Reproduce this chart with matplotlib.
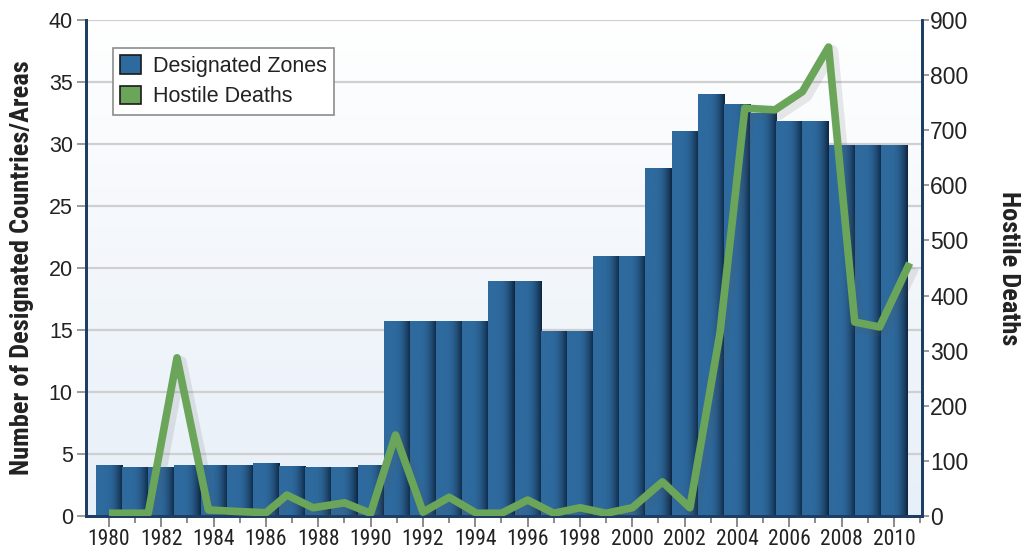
import numpy as np
import matplotlib
matplotlib.use("Agg")
import matplotlib.pyplot as plt
from matplotlib import font_manager
from matplotlib.patches import Patch
from matplotlib.ticker import MultipleLocator
import matplotlib.patheffects as pe
from matplotlib.colors import to_rgb

# ---------------- data ----------------
years = list(range(1980, 2011))
designated_zones = [4.1, 3.9, 3.9, 4.1, 4.1, 4.1, 4.2, 4.0, 3.95, 3.95, 4.1,
                    15.7, 15.7, 15.65, 15.7, 18.9, 18.9, 14.85, 14.85, 20.9, 20.9,
                    28.0, 31.0, 34.0, 33.15, 32.5, 31.85, 31.8, 29.9, 29.9, 29.9]
# hostile deaths: x positions (years) as drawn in the source chart, and values
death_years = [1980.0, 1981.5, 1982.6, 1983.8, 1985.0, 1986.0, 1986.8, 1987.8,
               1989.0, 1990.0, 1990.95, 1992.0, 1993.0, 1994.05, 1995.0, 1996.0,
               1997.0, 1998.0, 1999.0, 2000.0, 2001.15, 2002.2, 2003.35, 2004.3,
               2005.45, 2006.5, 2007.5, 2008.5, 2009.45, 2010.6]
hostile_deaths = [5, 5, 287, 11, 8, 6, 38, 15, 24, 5, 147, 7, 34, 5, 5, 29,
                  5, 15, 5, 15, 62, 15, 332, 740, 737, 770, 851, 352, 343, 459]
xtick_labels = [str(y) for y in range(1980, 2011, 2)]
left_ticks = list(range(0, 41, 5))
right_ticks = list(range(0, 901, 100))
series_names = ["Designated Zones", "Hostile Deaths"]
left_label = "Number of Designated Countries/Areas"
right_label = "Hostile Deaths"

# ---------------- fonts ----------------
names = {f.name for f in font_manager.fontManager.ttflist}
narrow = "Liberation Sans"
found = False
for cand in ["Roboto Condensed", "Liberation Sans Narrow", "Open Sans Condensed"]:
    if cand in names:
        narrow = cand
        found = True
        break
regular = "Liberation Sans" if "Liberation Sans" in names else "DejaVu Sans"
plt.rcParams["font.family"] = [regular, "DejaVu Sans"]

BAR = "#2e6a9e"
DARK = "#0e2540"
GREEN = "#6aa55a"
NAVY = "#1d3d63"
TICKC = "#8a8a8a"

fig = plt.figure(figsize=(10.21, 5.5), dpi=100)
ax = fig.add_axes([0.0842, 0.0618, 0.8188, 0.9018])
ax2 = ax.twinx()

xlim = (1979.12, 2011.07)

# background gradient
bg = np.linspace(0, 1, 256).reshape(-1, 1)
top_c = np.array(to_rgb("#ffffff"))
bot_c = np.array(to_rgb("#e7eff8"))
bg_img = top_c[None, None, :] * (1 - bg[..., None]) + bot_c[None, None, :] * bg[..., None]
ax.imshow(bg_img, extent=[0, 1, 0, 1], transform=ax.transAxes, aspect="auto",
          zorder=0, interpolation="bilinear")

# bars
bars = ax.bar(years, designated_zones, width=1.0, color=BAR, linewidth=0, zorder=2)
t = np.linspace(0, 1, 64)
f = np.clip((t - 0.35) / 0.65, 0, 1) ** 2.2
base = np.array(to_rgb(BAR))
dark = np.array(to_rgb(DARK))
grad = (base[None, :] * (1 - f[:, None]) + dark[None, :] * f[:, None])[None, :, :]
for b in bars:
    x0 = b.get_x()
    ax.imshow(grad, extent=[x0, x0 + b.get_width(), 0, b.get_height()],
              aspect="auto", zorder=2.5, interpolation="bilinear")

ax.set_xlim(*xlim)
ax.set_ylim(0, 40)
ax.set_yticks(left_ticks)
ax.grid(axis="y", color="#cfcfcf", linewidth=1.6, zorder=1)
ax.set_axisbelow(True)

ax.set_xticks(list(range(1980, 2011, 2)))
ax.set_xticklabels(xtick_labels, fontfamily=narrow, fontsize=15.5, color="#222222")
ax.xaxis.set_minor_locator(MultipleLocator(1))
ax.tick_params(axis="x", which="major", length=8, width=1.4, color=TICKC, pad=1.2)
ax.tick_params(axis="x", which="minor", length=5, width=1.4, color=TICKC)
ax.tick_params(axis="y", length=6.5, width=1.2, color=TICKC, pad=3,
               labelsize=15.5, labelcolor="#222222")

# line
ax2.plot(death_years, hostile_deaths, color=GREEN, linewidth=5.5,
         solid_joinstyle="round", solid_capstyle="butt", zorder=5,
         path_effects=[pe.SimpleLineShadow(offset=(2.5, -3), shadow_color="#555555",
                                           alpha=0.13, linewidth=9),
                       pe.Normal()])
ax2.set_ylim(0, 900)
ax2.set_yticks(right_ticks)
ax2.tick_params(axis="y", length=5, width=1.2, color=TICKC, pad=1,
                labelsize=16.5, labelcolor="#222222")
ax2.set_xlim(*xlim)

for a in (ax, ax2):
    a.spines["top"].set_visible(False)
    for s in ("left", "right", "bottom"):
        a.spines[s].set_color(NAVY)
        a.spines[s].set_linewidth(2)

lab_size = 19 if found else 14.5
ax.set_ylabel(left_label, fontfamily=narrow, fontweight="bold", fontsize=lab_size,
              color="#222222", va="center")
ax.yaxis.set_label_coords(-0.0766, 0.5)
ax2.set_ylabel(right_label, fontfamily=narrow, fontweight="bold", fontsize=lab_size,
               color="#222222", rotation=270, va="center")
ax2.yaxis.set_label_coords(1.104, 0.50)

handles = [Patch(facecolor=BAR, edgecolor="#1a1a1a", linewidth=1.2),
           Patch(facecolor=GREEN, edgecolor="#1a1a1a", linewidth=1.2)]
leg = ax2.legend(handles, series_names, loc="upper left",
                 bbox_to_anchor=(0.032, 0.944), borderaxespad=0,
                 fancybox=False, framealpha=1, edgecolor="#8c8c8c",
                 fontsize=15.5, handlelength=0.95, handleheight=0.95,
                 handletextpad=0.55, labelspacing=0.4, borderpad=0.35)
leg.get_frame().set_linewidth(1.2)
for txt in leg.get_texts():
    txt.set_color("#222222")

fig.savefig("out.png", dpi=100)
